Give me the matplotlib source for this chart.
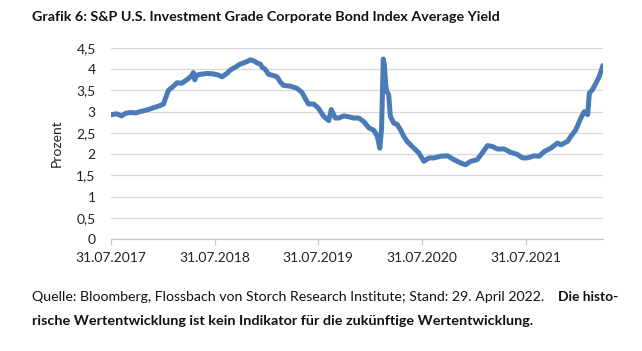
#!/usr/bin/env python3
import matplotlib
matplotlib.use("Agg")
import matplotlib.pyplot as plt
import matplotlib.dates as mdates
import pandas as pd

plt.rcParams['font.family'] = ['Lato', 'DejaVu Sans']

# Yield readings (in %) taken off the chart
dates = [
    "2017-08-01", "2017-08-20", "2017-09-06", "2017-09-20", "2017-10-06",
    "2017-10-25", "2017-11-10", "2017-12-04", "2017-12-27", "2018-01-14",
    "2018-02-01", "2018-02-06", "2018-02-18", "2018-03-08", "2018-03-20",
    "2018-04-06", "2018-04-24", "2018-05-12", "2018-05-17", "2018-05-22",
    "2018-05-29", "2018-06-10", "2018-07-04", "2018-07-27", "2018-08-14",
    "2018-08-26", "2018-09-12", "2018-09-24", "2018-10-12", "2018-10-29",
    "2018-11-22", "2018-12-03", "2018-12-15", "2018-12-27", "2019-01-08",
    "2019-01-14", "2019-01-25", "2019-02-06", "2019-02-24", "2019-03-08",
    "2019-03-19", "2019-03-31", "2019-04-24", "2019-05-17", "2019-06-04",
    "2019-06-16", "2019-06-27", "2019-07-15", "2019-08-01", "2019-08-19",
    "2019-09-06", "2019-09-15", "2019-09-29", "2019-10-11", "2019-10-29",
    "2019-11-15", "2019-12-03", "2019-12-21", "2020-01-07", "2020-01-25",
    "2020-02-12", "2020-02-24", "2020-03-04", "2020-03-10", "2020-03-16",
    "2020-03-20", "2020-03-24", "2020-03-27", "2020-04-04", "2020-04-10",
    "2020-04-22", "2020-05-04", "2020-05-16", "2020-05-27", "2020-06-08",
    "2020-06-20", "2020-07-02", "2020-07-19", "2020-08-06", "2020-08-24",
    "2020-09-10", "2020-10-04", "2020-10-28", "2020-11-20", "2020-12-14",
    "2020-12-31", "2021-01-18", "2021-02-10", "2021-02-28", "2021-03-18",
    "2021-04-04", "2021-04-22", "2021-05-16", "2021-06-08", "2021-07-02",
    "2021-07-19", "2021-08-06", "2021-08-29", "2021-09-16", "2021-10-04",
    "2021-10-27", "2021-11-20", "2021-12-02", "2021-12-25", "2022-01-06",
    "2022-01-23", "2022-02-10", "2022-02-22", "2022-03-06", "2022-03-12",
    "2022-03-23", "2022-04-04", "2022-04-16", "2022-04-28",
]
yields = [
    2.93, 2.95, 2.90, 2.96, 2.98,
    2.97, 3.00, 3.04, 3.09, 3.13,
    3.18, 3.28, 3.50, 3.60, 3.68,
    3.67, 3.75, 3.85, 3.92, 3.75,
    3.86, 3.88, 3.90, 3.89, 3.86,
    3.82, 3.90, 3.98, 4.05, 4.12,
    4.18, 4.22, 4.20, 4.15, 4.12,
    4.05, 4.00, 3.88, 3.85, 3.82,
    3.70, 3.62, 3.60, 3.55, 3.45,
    3.30, 3.18, 3.18, 3.08, 2.89,
    2.79, 3.05, 2.85, 2.85, 2.90,
    2.88, 2.85, 2.85, 2.77, 2.62,
    2.56, 2.42, 2.14, 2.60, 4.24,
    4.10, 3.70, 3.50, 3.40, 2.89,
    2.73, 2.70, 2.57, 2.42, 2.30,
    2.22, 2.14, 2.03, 1.83, 1.91,
    1.91, 1.95, 1.96, 1.87, 1.79,
    1.75, 1.83, 1.87, 2.03, 2.20,
    2.18, 2.12, 2.12, 2.04, 1.99,
    1.91, 1.91, 1.96, 1.95, 2.06,
    2.14, 2.26, 2.22, 2.30, 2.42,
    2.57, 2.85, 3.00, 2.93, 3.44,
    3.52, 3.67, 3.83, 4.07,
]

tick_dates = ["2017-07-31", "2018-07-31", "2019-07-31", "2020-07-31", "2021-07-31"]
y_ticks = [0, 0.5, 1, 1.5, 2, 2.5, 3, 3.5, 4, 4.5]

title = "Grafik 6: S&P U.S. Investment Grade Corporate Bond Index Average Yield"
source = "Quelle: Bloomberg, Flossbach von Storch Research Institute; Stand: 29. April 2022."
note1 = "Die histo-"
note2 = "rische Wertentwicklung ist kein Indikator für die zukünftige Wertentwicklung."

fig = plt.figure(figsize=(6.42, 3.51), dpi=100)
ax = fig.add_axes([111 / 642, 1 - 239 / 351, 492 / 642, 191 / 351])

x = pd.to_datetime(dates)
ax.plot(x, yields, color="#4a7bb7", linewidth=3.6, solid_joinstyle="round")

ax.set_xlim(pd.Timestamp("2017-07-31"), pd.Timestamp("2022-04-29"))
ax.set_ylim(0, 4.5)
ax.set_yticks(y_ticks)
ax.set_yticklabels([f"{v:g}".replace(".", ",") for v in y_ticks])
ax.set_xticks(pd.to_datetime(tick_dates))
ax.xaxis.set_major_formatter(mdates.DateFormatter("%d.%m.%Y"))

ax.grid(True, axis="y", color="#d9d9d9", linewidth=0.9)
ax.set_axisbelow(True)
for s in ["top", "right", "left"]:
    ax.spines[s].set_visible(False)
ax.spines["bottom"].set_color("#c8c8c8")
ax.spines["bottom"].set_linewidth(0.9)
ax.tick_params(axis="y", length=0, pad=11, labelsize=10, colors="#222222")
ax.tick_params(axis="x", length=4, width=0.9, color="#c8c8c8", pad=5,
               labelsize=10, labelcolor="#222222")
ax.set_ylabel("Prozent", fontsize=10, color="#222222", labelpad=10)

fig.text(32 / 642, 1 - 17 / 351, title, fontsize=10.3, fontweight="bold",
         ha="left", va="center", color="#111111")
fig.text(32 / 642, 1 - 297 / 351, source, fontsize=10.2, ha="left", va="center",
         color="#111111")
fig.text(618 / 642, 1 - 297 / 351, note1, fontsize=9.9, fontweight="bold",
         ha="right", va="center", color="#111111")
fig.text(32 / 642, 1 - 321 / 351, note2, fontsize=10.4, fontweight="bold",
         ha="left", va="center", color="#111111")

fig.savefig("out.png", dpi=100, facecolor="white")
